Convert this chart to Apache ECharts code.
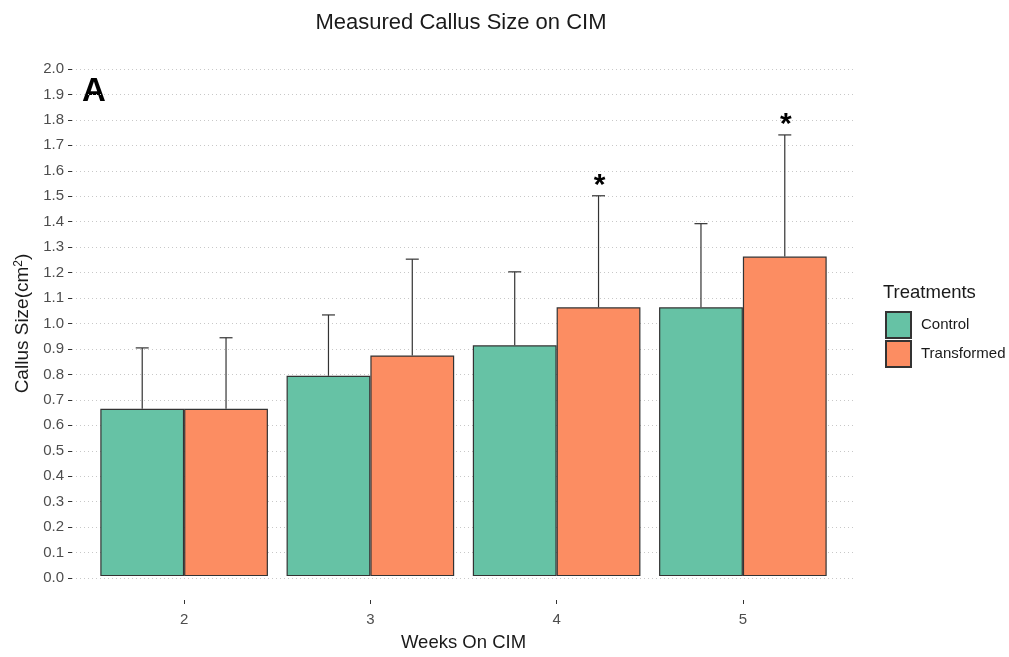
<!DOCTYPE html>
<html>
<head>
<meta charset="utf-8">
<script src="https://cdn.jsdelivr.net/npm/echarts@6/dist/echarts.min.js"></script>
<style>
  html, body { margin: 0; padding: 0; background: #fff; }
  #chart { width: 1009px; height: 657px; }
</style>
</head>
<body>
<div id="chart"></div>
<script>
// Weeks on callus-induction medium
const weeks = ['2', '3', '4', '5'];
// Mean callus area (cm^2)
const controlMean = [0.66, 0.79, 0.91, 1.06];
const transformedMean = [0.66, 0.87, 1.06, 1.26];
// Mean + SD (top of the error whisker)
const controlUpper = [0.90, 1.03, 1.20, 1.39];
const transformedUpper = [0.94, 1.25, 1.50, 1.74];
// Significant difference markers
const transformedSig = [false, false, true, true];
const yTicks = { min: 0, max: 2, step: 0.1 };

const FONT = '"Liberation Sans", Arial, sans-serif';
const GREEN = '#66c2a5';
const ORANGE = '#fc8d62';

// Layout of the panel (px)
const PANEL_TOP = 69, PANEL_ZERO = 578, PANEL_BOTTOM = 602, H = 657;
// the bar panel reaches a little below zero, so its value axis starts below 0
const belowZero = (PANEL_BOTTOM - PANEL_ZERO) / (PANEL_ZERO - PANEL_TOP) * (yTicks.max - yTicks.min);

function errorData(mean, upper, sig) {
  return weeks.map((w, i) => [i, mean[i], upper[i], sig ? (sig[i] ? 1 : 0) : 0]);
}

// side: -1 for left bar in group, +1 for right bar
function makeErrorRenderer(side) {
  return function (params, api) {
    const idx = api.value(0);
    const base = api.coord([idx, api.value(1)]);
    const top = api.coord([idx, api.value(2)]);
    const band = api.size([1, 0])[0];
    const x = base[0] + side * band * 0.9 / 4;
    const capHalf = 6.5;
    const style = { stroke: '#333', lineWidth: 1.2 };
    const children = [
      { type: 'line', shape: { x1: x, y1: base[1], x2: x, y2: top[1] }, style },
      { type: 'line', shape: { x1: x - capHalf, y1: top[1], x2: x + capHalf, y2: top[1] }, style }
    ];
    if (api.value(3) === 1) {
      children.push({
        type: 'text',
        style: {
          text: '*', x: x + 1, y: top[1] + 5,
          fill: '#000', font: 'bold 30px ' + FONT,
          textAlign: 'center', textVerticalAlign: 'bottom'
        }
      });
    }
    return { type: 'group', children };
  };
}

const chart = echarts.init(document.getElementById('chart'), null, { renderer: 'canvas' });

const option = {
  backgroundColor: '#fff',
  animation: false,
  title: {
    text: 'Measured Callus Size on CIM',
    left: 456, top: 7, textAlign: 'center',
    textStyle: { fontFamily: FONT, fontSize: 22, fontWeight: 'normal', color: '#1a1a1a' }
  },
  grid: [
    // panel for gridlines and y labels
    { left: 72, right: 154, top: PANEL_TOP, bottom: H - PANEL_ZERO },
    // bars and x axis
    { left: 91, right: 173, top: PANEL_TOP, bottom: H - PANEL_BOTTOM }
  ],
  xAxis: [
    { gridIndex: 0, type: 'value', min: 0, max: 1, show: false },
    {
      gridIndex: 1, type: 'category', data: weeks,
      name: 'Weeks On CIM', nameLocation: 'middle', nameGap: 33,
      nameTextStyle: { fontFamily: FONT, fontSize: 18.5, color: '#1a1a1a' },
      axisLine: { show: false, onZero: false },
      axisTick: { show: true, alignWithLabel: true, length: 4, lineStyle: { color: '#333' } },
      axisLabel: { fontFamily: FONT, fontSize: 15, color: '#4d4d4d', margin: 12 }
    }
  ],
  yAxis: [
    {
      gridIndex: 0, type: 'value', min: yTicks.min, max: yTicks.max, interval: yTicks.step,
      name: '{a|Callus Size(cm}{s|2}{a|)}', nameLocation: 'middle', nameGap: 37,
      nameTextStyle: {
        rich: {
          a: { fontFamily: FONT, fontSize: 19, color: '#1a1a1a' },
          s: { fontFamily: FONT, fontSize: 12, color: '#1a1a1a', verticalAlign: 'top', padding: [0, 0, 9, 0] }
        }
      },
      axisLine: { show: false },
      axisTick: { show: true, length: 4, lineStyle: { color: '#333' } },
      axisLabel: {
        fontFamily: FONT, fontSize: 15, color: '#4d4d4d', margin: 8,
        formatter: v => v.toFixed(1)
      },
      splitLine: { show: true, lineStyle: { color: '#c8c8c8', type: [1, 3], width: 1 } }
    },
    {
      gridIndex: 1, type: 'value', min: yTicks.min - belowZero, max: yTicks.max,
      show: false, splitLine: { show: false }
    }
  ],
  legend: {
    orient: 'vertical', left: 885, top: 311, padding: 0,
    itemWidth: 25, itemHeight: 26, itemGap: 1,
    icon: 'rect',
    textStyle: { fontFamily: FONT, fontSize: 15, color: '#1a1a1a', padding: [0, 0, 0, 5] },
    data: ['Control', 'Transformed']
  },
  graphic: [
    {
      type: 'text', left: 883, top: 283,
      style: { text: 'Treatments', font: '18.5px ' + FONT, fill: '#1a1a1a' }
    },
    {
      type: 'text', left: 82, top: 75,
      style: { text: 'A', font: 'bold 33px ' + FONT, fill: '#000' }
    }
  ],
  series: [
    {
      name: 'Control', type: 'bar', xAxisIndex: 1, yAxisIndex: 1,
      data: controlMean, barGap: '0%', barCategoryGap: '10%',
      itemStyle: { color: GREEN, borderColor: '#333', borderWidth: 1.2 }
    },
    {
      name: 'Transformed', type: 'bar', xAxisIndex: 1, yAxisIndex: 1,
      data: transformedMean, barGap: '0%', barCategoryGap: '10%',
      itemStyle: { color: ORANGE, borderColor: '#333', borderWidth: 1.2 }
    },
    {
      type: 'custom', xAxisIndex: 1, yAxisIndex: 1, z: 1,
      renderItem: makeErrorRenderer(-1),
      encode: { x: 0, y: [1, 2] },
      data: errorData(controlMean, controlUpper, null)
    },
    {
      type: 'custom', xAxisIndex: 1, yAxisIndex: 1, z: 1,
      renderItem: makeErrorRenderer(1),
      encode: { x: 0, y: [1, 2] },
      data: errorData(transformedMean, transformedUpper, transformedSig)
    }
  ]
};

chart.setOption(option);
</script>
</body>
</html>
